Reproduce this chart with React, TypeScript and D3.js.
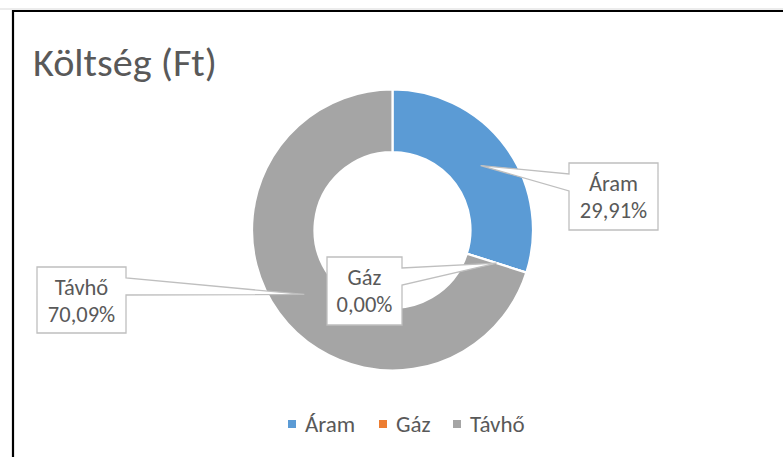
import React from "react";
import * as d3 from "d3";

const categories = ["Áram", "Gáz", "Távhő"];
const values = [29.91, 0.0, 70.09];
const percentLabels = ["29,91%", "0,00%", "70,09%"];
const colors = ["#5B9BD5", "#ED7D31", "#A5A5A5"];
const title = "Költség (Ft)";

// label box layout (position only)
const labelBoxes = [
  { x: 569, y: 163, w: 89, h: 67, side: "left" },
  { x: 327, y: 257, w: 75, h: 68, side: "right" },
  { x: 37, y: 267, w: 89, h: 66, side: "right" },
];
const legendX = [288, 379, 453];

const W = 783;
const H = 457;
const cx = 392.5;
const cy = 230;
const R = 140.5;
const r = 78;
const FONT = "Carlito, Calibri, Lato, 'Noto Sans', sans-serif";
const TEXT = "#595959";

export default function App() {
  const pie = d3.pie<number>().sort(null).value((d) => d);
  const arcs = pie(values);
  const arcGen = d3.arc<d3.PieArcDatum<number>>().innerRadius(r).outerRadius(R);
  const mid = (R + r) / 2;

  const callout = (i: number) => {
    const b = labelBoxes[i];
    const a = arcs[i];
    const ang = (a.startAngle + a.endAngle) / 2;
    const px = cx + mid * Math.sin(ang);
    const py = cy - mid * Math.cos(ang);
    const y1 = b.y + 11;
    const y2 = b.y + 28;
    let d: string;
    if (b.side === "left") {
      d = `M${b.x},${b.y} L${b.x + b.w},${b.y} L${b.x + b.w},${b.y + b.h} L${b.x},${b.y + b.h} L${b.x},${y2} L${px},${py} L${b.x},${y1} Z`;
    } else {
      const xr = b.x + b.w;
      d = `M${b.x},${b.y} L${xr},${b.y} L${xr},${y1} L${px},${py} L${xr},${y2} L${xr},${b.y + b.h} L${b.x},${b.y + b.h} Z`;
    }
    return (
      <g key={"c" + i}>
        <path d={d} fill="#fff" stroke="#BFBFBF" strokeWidth={1.3} strokeLinejoin="miter" />
        <text x={b.x + b.w / 2} y={b.y + 28} textAnchor="middle" fontSize={22.5} fill={TEXT} fontFamily={FONT}>
          {categories[i]}
        </text>
        <text x={b.x + b.w / 2} y={b.y + 55} textAnchor="middle" fontSize={22.5} fill={TEXT} fontFamily={FONT}>
          {percentLabels[i]}
        </text>
      </g>
    );
  };

  return (
    <svg width={W} height={H} style={{ position: "absolute", left: 0, top: 0, background: "#fff" }}>
      <rect x={0} y={0} width={W} height={H} fill="#fff" />
      <line x1={0} y1={9} x2={W} y2={9} stroke="#D9D9D9" strokeWidth={1} />
      <path d={`M13,${H + 5} L13,11 L${W + 5},11`} fill="none" stroke="#000" strokeWidth={2.2} />
      <text x={33} y={76} fontSize={38} textLength={184} lengthAdjust="spacingAndGlyphs" fill={TEXT} fontFamily={FONT}>
        {title}
      </text>
      <g>
        {arcs.map((a, i) => (
          <path
            key={i}
            d={arcGen(a) || ""}
            transform={`translate(${cx},${cy})`}
            fill={colors[i]}
            stroke="#fff"
            strokeWidth={2.2}
          />
        ))}
      </g>
      {arcs.map((_, i) => callout(i))}
      <g>
        {categories.map((c, i) => (
          <g key={"l" + i}>
            <rect x={legendX[i]} y={420} width={8} height={8} fill={colors[i]} />
            <text x={legendX[i] + 17} y={432} fontSize={23} fill={TEXT} fontFamily={FONT}>
              {c}
            </text>
          </g>
        ))}
      </g>
    </svg>
  );
}
